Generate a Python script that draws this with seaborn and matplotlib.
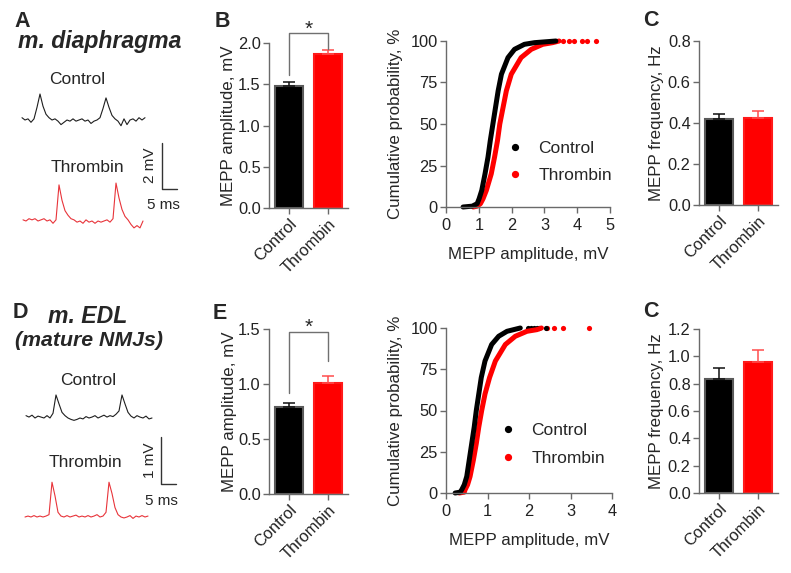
import matplotlib
matplotlib.use('Agg')
import matplotlib.pyplot as plt
import seaborn as sns
import numpy as np
import pandas as pd
from matplotlib.lines import Line2D

# ---------------- data ----------------
groups = ['Control', 'Thrombin']

# bar charts (mean, SEM)
diaph_amp_mean = [1.48, 1.87]
diaph_amp_sem = [0.05, 0.05]
diaph_freq_mean = [0.42, 0.423]
diaph_freq_sem = [0.024, 0.036]
edl_amp_mean = [0.79, 1.006]
edl_amp_sem = [0.04, 0.064]
edl_freq_mean = [0.836, 0.96]
edl_freq_sem = [0.081, 0.086]

# cumulative distributions: amplitude (mV) at each cumulative level (%)
cum_levels = [0, 0.5, 2, 5, 10, 20, 30, 40, 50, 60, 70, 80, 90, 95, 98, 99, 100]
diaph_ctrl_amp = [0.52, 0.80, 0.95, 1.01, 1.09, 1.19, 1.28, 1.35, 1.43, 1.51, 1.59, 1.69, 1.89, 2.09, 2.39, 2.70, 3.35]
diaph_thr_amp = [0.83, 0.95, 1.05, 1.13, 1.23, 1.38, 1.48, 1.57, 1.64, 1.74, 1.84, 1.99, 2.29, 2.60, 2.95, 3.25, 3.45]
diaph_thr_tail = [3.56, 3.76, 3.91, 4.16, 4.31, 4.57]
edl_ctrl_amp = [0.22, 0.34, 0.38, 0.44, 0.50, 0.56, 0.62, 0.68, 0.73, 0.79, 0.85, 0.94, 1.10, 1.27, 1.47, 1.63, 1.79]
edl_ctrl_tail = [1.98, 2.05, 2.12, 2.20, 2.25, 2.42]
edl_thr_amp = [0.32, 0.44, 0.46, 0.52, 0.58, 0.66, 0.73, 0.79, 0.86, 0.94, 1.05, 1.19, 1.43, 1.67, 1.95, 2.19, 2.30]
edl_thr_tail = [2.44, 2.60, 2.82, 3.44]

# example traces (mV relative to baseline, 1 ms sampling)
diaph_ctrl_trace = [0.10, 0.00, 0.05, -0.10, 0.05, 0.55, 1.13, 0.60, 0.25, 0.10, 0.00, 0.05, -0.05, -0.20,
                    -0.10, 0.00, -0.05, 0.05, -0.05, 0.00, 0.05, -0.05, 0.00, -0.15, -0.05, 0.00, 0.10, 0.50,
                    0.96, 0.55, 0.20, 0.05, -0.05, -0.25, 0.05, -0.20, 0.00, 0.05, -0.05, 0.10, 0.00, 0.10]
diaph_thr_trace = [0.05, 0.00, 0.10, 0.05, 0.10, 0.00, 0.05, 0.10, 0.00, 0.05, -0.10, 0.05, 1.57, 0.90,
                   0.45, 0.25, 0.10, 0.05, -0.05, 0.00, -0.10, 0.05, -0.05, 0.00, -0.10, 0.00, -0.05, 0.00,
                   0.05, -0.05, 0.10, 1.65, 1.00, 0.50, 0.20, 0.05, -0.15, -0.30, -0.20, -0.30, 0.00]
edl_ctrl_trace = [0.05, 0.02, 0.06, 0.00, 0.04, 0.02, 0.00, 0.05, 0.00, 0.10, 0.49, 0.30, 0.12, 0.05,
                  0.00, -0.03, -0.05, -0.03, 0.00, -0.02, 0.03, 0.00, 0.02, 0.05, 0.00, 0.03, 0.06, 0.02,
                  0.05, 0.03, 0.08, 0.15, 0.49, 0.30, 0.12, 0.04, 0.00, 0.05, 0.02, 0.00, 0.04, -0.02, 0.00]
edl_thr_trace = [0.00, 0.02, 0.00, 0.03, 0.00, 0.02, 0.00, 0.02, 0.05, 0.74, 0.45, 0.10, 0.02, 0.00,
                 0.03, 0.00, 0.02, 0.04, 0.00, 0.02, 0.00, 0.03, 0.00, 0.02, 0.05, 0.00, 0.02, 0.10,
                 0.74, 0.50, 0.20, 0.05, 0.00, -0.02, 0.00, 0.03, -0.03, 0.02, 0.00, 0.03, 0.00, 0.02]

# ---------------- style ----------------
W, H = 791, 573
sns.set_style('ticks')
plt.rcParams['font.family'] = ['Liberation Sans', 'DejaVu Sans']
plt.rcParams['axes.edgecolor'] = '#6a6a6a'
plt.rcParams['xtick.color'] = '#6a6a6a'
plt.rcParams['ytick.color'] = '#6a6a6a'
plt.rcParams['xtick.labelcolor'] = '#222222'
plt.rcParams['ytick.labelcolor'] = '#222222'
plt.rcParams['axes.linewidth'] = 1.0

BLACK = '#000000'
RED = '#ff0000'
TRACE_BLACK = '#1e1e1e'
TRACE_RED = '#e8343a'
TICK_FS = 11.8
LABEL_FS = 12.2

fig = plt.figure(figsize=(W / 100, H / 100), dpi=100)


def px_axes(left, top, right, bottom):
    return fig.add_axes([left / W, 1 - bottom / H, (right - left) / W, (bottom - top) / H])


def ftext(x, y, s, **kw):
    fig.text(x / W, 1 - y / H, s, **kw)


def style_ticks(ax):
    ax.tick_params(direction='out', length=4, width=1, labelsize=TICK_FS, pad=2)


def bar_panel(ax, means, sems, ymax, ystep, ylabel, labelpad, bracket=None):
    df = pd.DataFrame({'group': groups, 'value': means})
    sns.barplot(data=df, x='group', y='value', hue='group', palette=[BLACK, RED],
                width=0.7, errorbar=None, legend=False, saturation=1, ax=ax)
    for patch, ec in zip(ax.patches, ['#5a5a5a', '#ff1a1a']):
        patch.set_edgecolor(ec)
        patch.set_linewidth(1.5)
    for i, (m, s, c) in enumerate(zip(means, sems, ['#111111', '#ff4d4d'])):
        ax.errorbar(i, m, yerr=[[0], [s]], color=c, capsize=4.5, elinewidth=1.1,
                    capthick=1.1, zorder=1)
    ax.set_xlim(-0.5, 1.5)
    ax.set_ylim(0, ymax)
    ax.set_yticks(np.round(np.arange(0, ymax + 1e-9, ystep), 2))
    ax.set_yticklabels([f'{v:.1f}' for v in np.arange(0, ymax + 1e-9, ystep)])
    ax.set_xticks([0, 1])
    ax.set_xticklabels(groups, rotation=45, ha='right', rotation_mode='anchor', fontsize=LABEL_FS)
    ax.set_xlabel('')
    ax.set_ylabel(ylabel, fontsize=LABEL_FS, labelpad=labelpad)
    sns.despine(ax=ax)
    style_ticks(ax)
    if bracket is not None:
        yl, ytop, yr, ystar = bracket
        ax.plot([0, 0, 1, 1], [yl, ytop, ytop, yr], color='#707070', lw=1, clip_on=False)
        ax.text(0.5, ystar, '*', ha='center', va='center', fontsize=15, clip_on=False)


def cum_panel(ax, ctrl, thr, ctrl_tail, thr_tail, xmax, leg_xy):
    sns.lineplot(x=thr, y=cum_levels, color=RED, lw=3.6, sort=False, estimator=None,
                 ax=ax, clip_on=False, solid_capstyle='round')
    sns.lineplot(x=ctrl, y=cum_levels, color=BLACK, lw=3.6, sort=False, estimator=None,
                 ax=ax, clip_on=False, solid_capstyle='round')
    if thr_tail:
        sns.scatterplot(x=thr_tail, y=[100] * len(thr_tail), color=RED, s=14, linewidth=0,
                        ax=ax, clip_on=False)
    if ctrl_tail:
        sns.scatterplot(x=ctrl_tail, y=[100] * len(ctrl_tail), color=BLACK, s=14, linewidth=0,
                        ax=ax, clip_on=False)
    ax.set_xlim(0, xmax)
    ax.set_ylim(0, 100)
    ax.set_xticks(range(0, xmax + 1))
    ax.set_yticks([0, 25, 50, 75, 100])
    ax.set_xlabel('MEPP amplitude, mV', fontsize=LABEL_FS, labelpad=10)
    ax.set_ylabel('Cumulative probability, %', fontsize=LABEL_FS, labelpad=5)
    sns.despine(ax=ax)
    style_ticks(ax)
    ax.tick_params(axis='x', pad=4)
    handles = [Line2D([], [], marker='o', ls='', color=BLACK, markersize=4.2),
               Line2D([], [], marker='o', ls='', color=RED, markersize=4.2)]
    ax.legend(handles, groups, loc='center left', bbox_to_anchor=leg_xy, frameon=False,
              fontsize=12.5, handlelength=0.7, handletextpad=1.0, labelspacing=0.7,
              borderpad=0, borderaxespad=0)


def trace_panel(top, bottom, px_per_mv, ctrl, thr, ctrl_start, ctrl_base, thr_start, thr_base,
                bar_x, bar_top, bar_bottom, bar_mv):
    ax = px_axes(0, top, 200, bottom)
    hpx = bottom - top
    ax.set_xlim(0, 200 / 3.0)
    ax.set_ylim(0, hpx / px_per_mv)
    t_c = np.arange(len(ctrl)) + ctrl_start / 3.0
    t_t = np.arange(len(thr)) + thr_start / 3.0
    sns.lineplot(x=t_c, y=np.array(ctrl) + (bottom - ctrl_base) / px_per_mv, color=TRACE_BLACK,
                 lw=0.8, ax=ax, estimator=None, sort=False)
    sns.lineplot(x=t_t, y=np.array(thr) + (bottom - thr_base) / px_per_mv, color=TRACE_RED,
                 lw=0.8, ax=ax, estimator=None, sort=False)
    xb = bar_x / 3.0
    yb0 = (bottom - bar_bottom) / px_per_mv
    ax.plot([xb, xb, xb + 5], [yb0 + bar_mv, yb0, yb0], color='#333333', lw=1)
    ax.set_axis_off()


# ---------------- traces ----------------
trace_panel(60, 250, 23.0, diaph_ctrl_trace, diaph_thr_trace, 22, 120, 23, 221, 162, 143, 189, 2)
trace_panel(350, 560, 47.0, edl_ctrl_trace, edl_thr_trace, 26, 418, 25, 517, 161, 437, 484, 1)

ftext(14, 27, 'A', fontsize=15.5, fontweight='bold', ha='left', va='baseline')
ftext(18, 48, 'm. diaphragma', fontsize=16.6, fontweight='bold', fontstyle='italic', ha='left', va='baseline')
ftext(77, 84, 'Control', fontsize=12.5, ha='center', va='baseline')
ftext(87, 172.5, 'Thrombin', fontsize=12.5, ha='center', va='baseline')
ftext(150.5, 165, '2 mV', fontsize=11, rotation=90, ha='center', va='center')
ftext(163, 209, '5 ms', fontsize=11, ha='center', va='baseline')

ftext(13, 318, 'D', fontsize=15.5, fontweight='bold', ha='left', va='baseline')
ftext(48, 323, 'm. EDL', fontsize=16.6, fontweight='bold', fontstyle='italic', ha='left', va='baseline')
ftext(15, 346, '(mature NMJs)', fontsize=15.3, fontweight='bold', fontstyle='italic', ha='left', va='baseline')
ftext(88, 385, 'Control', fontsize=12.5, ha='center', va='baseline')
ftext(85, 467, 'Thrombin', fontsize=12.5, ha='center', va='baseline')
ftext(149.5, 460, '1 mV', fontsize=11, rotation=90, ha='center', va='center')
ftext(161, 505, '5 ms', fontsize=11, ha='center', va='baseline')

# ---------------- bar charts ----------------
axB = px_axes(269, 43, 348, 208)
bar_panel(axB, diaph_amp_mean, diaph_amp_sem, 2.0, 0.5, 'MEPP amplitude, mV', 1,
          bracket=(1.61, 2.12, 1.93, 2.17))
axE = px_axes(269, 329, 348, 494)
bar_panel(axE, edl_amp_mean, edl_amp_sem, 1.5, 0.5, 'MEPP amplitude, mV', 1,
          bracket=(0.92, 1.47, 1.21, 1.515))
axC1 = px_axes(699, 41, 778, 205)
bar_panel(axC1, diaph_freq_mean, diaph_freq_sem, 0.8, 0.2, 'MEPP frequency, Hz', 3)
axC2 = px_axes(699, 329, 778, 493)
bar_panel(axC2, edl_freq_mean, edl_freq_sem, 1.2, 0.2, 'MEPP frequency, Hz', 3)

ftext(215, 27, 'B', fontsize=15.5, fontweight='bold', ha='left', va='baseline')
ftext(213, 319, 'E', fontsize=15.5, fontweight='bold', ha='left', va='baseline')
ftext(643, 26, 'C', fontsize=15.5, fontweight='bold', ha='left', va='baseline')
ftext(643, 317, 'C', fontsize=15.5, fontweight='bold', ha='left', va='baseline')

# ---------------- cumulative ----------------
axP1 = px_axes(446, 41, 610, 207)
cum_panel(axP1, diaph_ctrl_amp, diaph_thr_amp, [], diaph_thr_tail, 5, (0.384, 0.271))
axP2 = px_axes(446, 328, 612, 493)
cum_panel(axP2, edl_ctrl_amp, edl_thr_amp, edl_ctrl_tail, edl_thr_tail, 4, (0.337, 0.294))

fig.savefig('out.png', dpi=100)
